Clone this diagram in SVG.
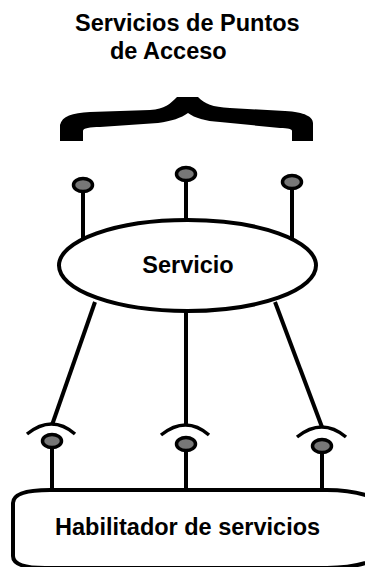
<svg xmlns="http://www.w3.org/2000/svg" width="365" height="567" viewBox="0 0 365 567">
  <style>
    .label { font-family: "Liberation Sans", Arial, sans-serif; font-weight: bold; font-size: 23.5px; fill: #000; }
    .edge { stroke: #000; stroke-width: 4; fill: none; stroke-linecap: butt; }
    .port { fill: #777; stroke: #000; stroke-width: 3.5; }
    .shape { fill: #fff; stroke: #000; stroke-width: 4; }
    .socket { fill: none; stroke: #000; stroke-width: 3.5; }
  </style>
  <defs>
    <ellipse id="port" cx="0" cy="0" rx="9.5" ry="6.5" class="port"/>
  </defs>

  <!-- heading -->
  <g id="title">
    <text class="label" x="75" y="31">Servicios de Puntos</text>
    <text class="label" x="110" y="59">de Acceso</text>
  </g>

  <!-- curly brace grouping the access points -->
  <g id="brace">
    <path fill="#000" d="M60 141 L60 125 C62 116 72 113 90 112 L150 110 C165 109 170 104 177 97 L198 97 C205 104 212 107 230 108 L285 111 C305 112 313 117 313 123 L313 141 L292 141 L292 131 C292 129 288 128 280 128 L220 122 C205 121 195 118 188 113 C181 118 172 121 158 123 L100 127 C90 127 83 128 83 131 L83 141 Z"/>
  </g>

  <!-- connectors -->
  <g id="connectors">
    <line class="edge" x1="83" y1="191" x2="83" y2="241"/>
    <line class="edge" x1="186" y1="180" x2="186" y2="220"/>
    <line class="edge" x1="292" y1="188" x2="292" y2="241"/>
    <line class="edge" x1="95" y1="302" x2="52" y2="425"/>
    <line class="edge" x1="186" y1="311" x2="186" y2="425"/>
    <line class="edge" x1="275" y1="302" x2="322" y2="427"/>
    <line class="edge" x1="52" y1="447" x2="52" y2="491"/>
    <line class="edge" x1="186" y1="450" x2="186" y2="491"/>
    <line class="edge" x1="322" y1="452" x2="322" y2="491"/>
  </g>

  <!-- service node with its exposed access points -->
  <g id="servicio">
    <ellipse class="shape" cx="187.5" cy="265.5" rx="128.5" ry="45.5"/>
    <text class="label" x="188" y="273" text-anchor="middle">Servicio</text>
  </g>
  <g id="port-top-left"><use href="#port" x="83" y="185"/></g>
  <g id="port-top-center"><use href="#port" x="186" y="174"/></g>
  <g id="port-top-right"><use href="#port" x="292" y="182"/></g>

  <!-- sockets and points on the enabler side -->
  <g id="socket-left">
    <path class="socket" d="M27 434 Q52 414 75 434"/>
    <use href="#port" x="52" y="441"/>
  </g>
  <g id="socket-center">
    <path class="socket" d="M161 435 Q186 415 209 435"/>
    <use href="#port" x="186" y="444"/>
  </g>
  <g id="socket-right">
    <path class="socket" d="M297 437 Q322 417 346 437"/>
    <use href="#port" x="322" y="446"/>
  </g>

  <!-- service enabler -->
  <g id="habilitador">
    <path class="shape" d="M50 490 L327 490 A78 39 0 0 1 327 568 L45 568 Q13 568 13 556 L13 503 Q13 490 50 490 Z"/>
    <text class="label" x="55" y="535">Habilitador de servicios</text>
  </g>
</svg>
